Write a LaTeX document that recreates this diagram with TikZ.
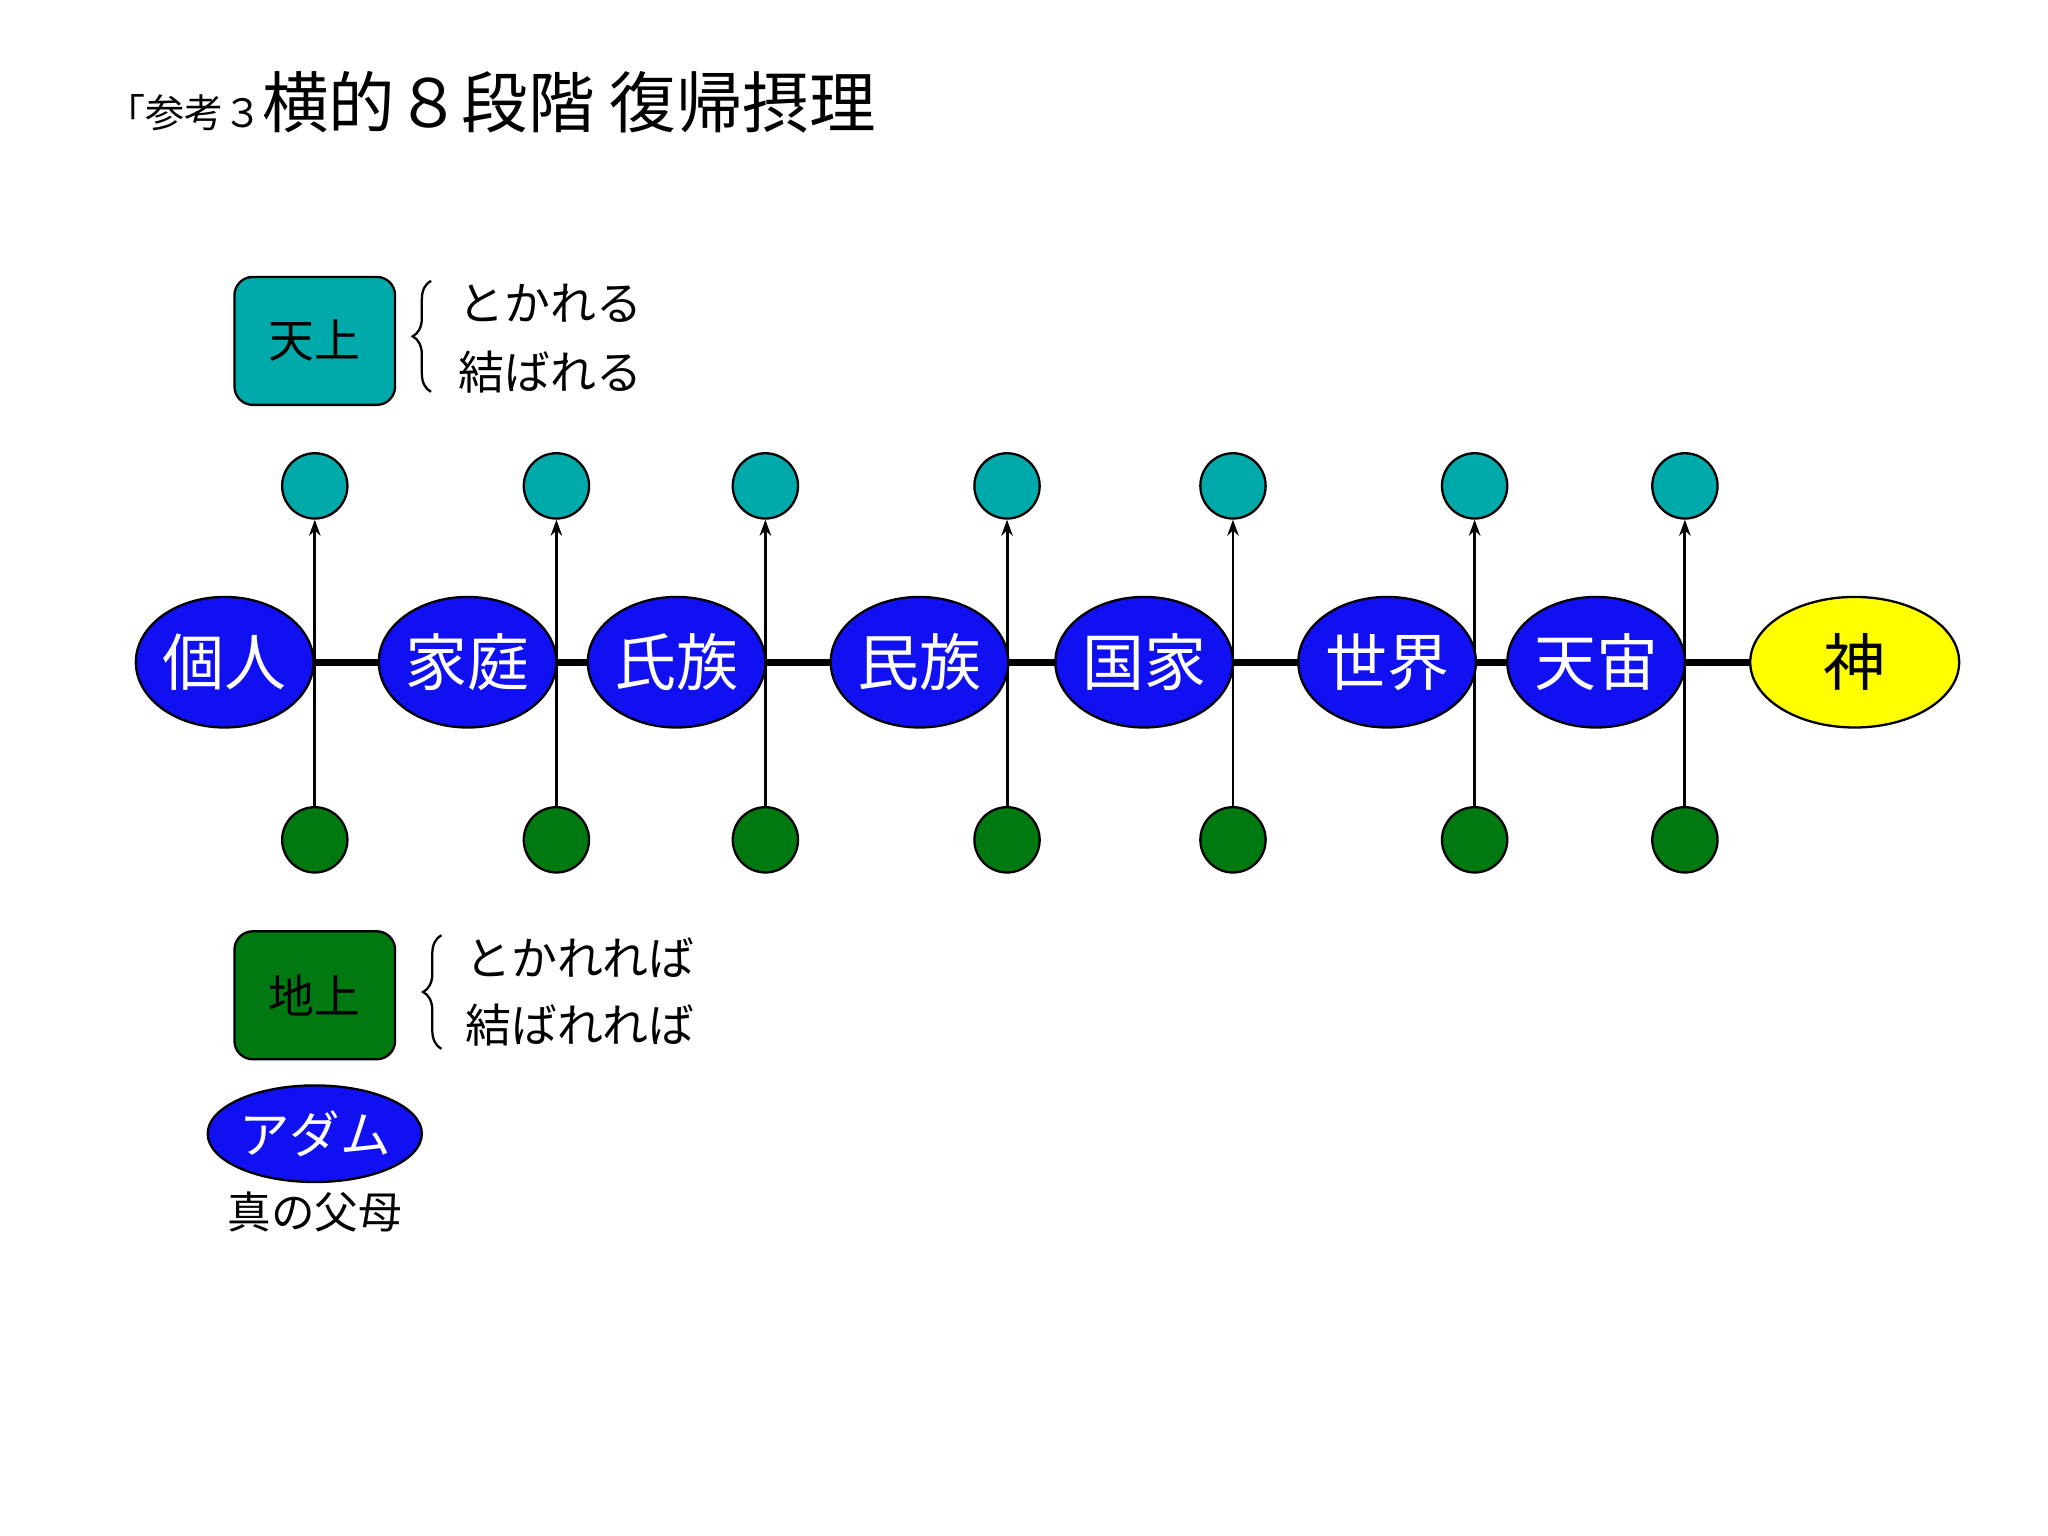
\documentclass[tikz,border=0pt]{standalone}
\usepackage{fontspec}
\setmainfont{Noto Sans CJK JP}
\usetikzlibrary{arrows.meta,decorations.pathreplacing,shapes.geometric}
\definecolor{nblue}{HTML}{1010F0}
\definecolor{nteal}{HTML}{00AAAA}
\definecolor{ngreen}{HTML}{007A10}
\definecolor{nyellow}{HTML}{FFFF00}
\begin{document}
\begin{tikzpicture}[x=0.02cm,y=-0.02cm,
  el/.style={ellipse,draw=black,line width=1pt,fill=nblue,text=white,inner sep=0pt,font=\fontsize{27}{27}\selectfont},
  tc/.style={circle,draw=black,line width=1pt,fill=nteal,minimum size=1cm,inner sep=0pt},
  gc/.style={circle,draw=black,line width=1pt,fill=ngreen,minimum size=1cm,inner sep=0pt},
  bx/.style={rounded corners=8pt,draw=black,line width=1pt,inner sep=0pt,font=\fontsize{20}{20}\selectfont},
  side/.style={font=\fontsize{20}{20}\selectfont,anchor=west},
  br/.style={line width=1pt,decorate,decoration={brace,amplitude=8pt}},
  ar/.style={line width=1.3pt,-{Stealth[length=7pt,width=5pt]}}]
\path[use as bounding box] (0,0) rectangle (1568,1176);
\node[anchor=west] (title) at (75,78) {{\fontsize{17}{17}\selectfont 「参考３}{\fontsize{29}{29}\selectfont 横的８段階 復帰摂理}};
\coordinate (ls) at (172,507);
\coordinate (le) at (1420,507);
\draw[line width=3pt] (ls) -- (le);
\foreach \x/\n in {241/a,426/b,586/c,771/d,944/e,1129/f,1290/g}{
  \node[tc] (t\n) at (\x,372) {};
  \node[gc] (g\n) at (\x,643) {};
  \draw[ar] (g\n) -- (t\n);
}
\foreach \x/\t/\n in {172/個人/p1,358/家庭/p2,518/氏族/p3,704/民族/p4,876/国家/p5,1062/世界/p6,1222/天宙/p7}{
  \node[el,minimum width=2.72cm,minimum height=2cm] (\n) at (\x,507) {\t};
}
\node[el,fill=nyellow,text=black,minimum width=3.2cm,minimum height=2cm] (god) at (1420,507) {神};
\node[bx,fill=nteal,minimum width=2.46cm,minimum height=1.96cm] (ten) at (241,261) {天上};
\node[side] (t1) at (345,232) {とかれる};
\node[side] (t2) at (345,285) {結ばれる};
\coordinate (ba) at (330,300);
\coordinate (bb) at (330,215);
\draw[br] (ba) -- (bb);
\node[bx,fill=ngreen,minimum width=2.46cm,minimum height=1.96cm] (chi) at (241,762) {地上};
\node[side] (b1) at (350,733) {とかれれば};
\node[side] (b2) at (350,785) {結ばれれば};
\coordinate (bc) at (338,803);
\coordinate (bd) at (338,716);
\draw[br] (bc) -- (bd);
\node[el,minimum width=3.2cm,minimum height=1.48cm,font=\fontsize{22}{22}\selectfont] (adam) at (241,868) {アダム};
\node[font=\fontsize{19}{19}\selectfont] (parents) at (241,928) {真の父母};
\end{tikzpicture}
\end{document}
